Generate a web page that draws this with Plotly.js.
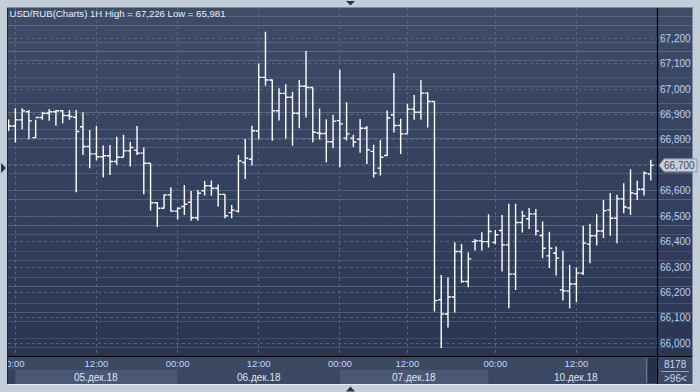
<!DOCTYPE html>
<html><head><meta charset="utf-8">
<script src="https://cdn.plot.ly/plotly-3.0.1.min.js"></script>
<style>html,body{margin:0;padding:0;background:#c3ced9;}#chart{width:700px;height:392px;}</style>
</head><body><div id="chart"></div>
<script>
// ---- data (hourly bars, USD/RUB) ----
const opens = [66860,66855,66879,66911,66809,66888,66905,66911,66915,66896,66889,66852,66774,66745,66734,66738,66715,66732,66757,66760,66748,66708,66553,66531,66584,66520,66538,66555,66494,66600,66620,66610,66586,66514,66520,66711,66724,66835,67046,67036,66915,66983,66968,66905,67011,67006,66827,66825,66793,66876,66807,66807,66803,66846,66755,66689,66739,66899,66857,66824,66921,66909,66984,66951,66171,66115,66182,66361,66243,66400,66403,66400,66397,66444,66387,66272,66475,66490,66509,66424,66344,66354,66210,66206,66233,66276,66390,66423,66442,66525,66492,66568,66532,66588,66606,66666];
const highs = [66880,66925,66925,66918,66879,66911,66922,66918,66918,66918,66918,66909,66839,66855,66778,66780,66813,66820,66793,66855,66770,66708,66555,66586,66614,66534,66623,66599,66603,66638,66640,66625,66586,66544,66741,66804,66856,67101,67226,67038,67003,67019,66990,67036,67150,67006,66924,66881,66898,67076,66948,66820,66882,66855,66781,66800,66916,67063,66883,66942,66977,67036,66988,66951,66269,66260,66397,66391,66357,66410,66437,66508,66446,66505,66549,66549,66521,66532,66528,66479,66439,66381,66364,66309,66298,66462,66470,66509,66564,66591,66584,66630,66685,66639,66676,66722];
const lows = [66835,66790,66842,66803,66807,66879,66875,66856,66866,66879,66594,66741,66689,66719,66653,66662,66702,66732,66695,66741,66586,66522,66457,66530,66518,66488,66505,66482,66482,66581,66580,66538,66492,66492,66515,66646,66699,66802,67013,66797,66876,66806,66777,66846,66888,66791,66802,66712,66767,66693,66798,66772,66750,66705,66652,66660,66737,66829,66745,66824,66879,66879,66849,66125,65981,66062,66121,66237,66220,66365,66365,66377,66390,66282,66138,66210,66436,66450,66424,66335,66296,66267,66168,66138,66162,66269,66315,66385,66414,66423,66394,66512,66505,66564,66581,66640];
const closes = [66855,66879,66915,66875,66888,66905,66911,66915,66896,66892,66833,66774,66745,66734,66738,66715,66732,66757,66770,66748,66708,66553,66531,66584,66520,66531,66547,66494,66590,66620,66610,66586,66502,66524,66717,66728,66836,67046,67036,66915,66983,66968,66905,67011,67006,66830,66825,66793,66874,66863,66824,66792,66846,66761,66669,66732,66886,66857,66824,66921,66909,66984,66951,66168,66115,66182,66361,66243,66332,66403,66400,66440,66427,66387,66272,66475,66501,66509,66442,66374,66374,66335,66206,66233,66276,66394,66423,66442,66522,66492,66568,66536,66591,66606,66669,66700];

const timeTickPos  = [1, 13, 25, 37, 49, 59, 72, 84];
const timeTickText = ['0:00','12:00','00:00','12:00','00:00','12:00','00:00','12:00'];
const dayLabels   = ['05.дек.18','06.дек.18','07.дек.18','10.дек.18'];
const dayLabelPos = [13, 37, 60, 84];
const dayBandStart = [1, 25, 49, 71];
const dayBandEnd   = [25, 49, 71, 94.3];
const priceTicks = [66000,66100,66200,66300,66400,66500,66600,66700,66800,66900,67000,67100,67200];
const seriesName = 'USD/RUB(Charts) 1H';
const totalBars = 8178;
const visibleBars = 96;

// ---- geometry helpers (styling only) ----
const W = 700, H = 392, PL = 8, PR = 657, PT = 8, PB = 356;
const xr = [-0.09, 95.92], yr = [65950, 67319];
const fx = px => (px - PL) / (PR - PL);
const fy = py => (PB - py) / (PB - PT);
const barPx = i => PL + (i - xr[0]) / (xr[1] - xr[0]) * (PR - PL);
const valPy = v => PT + (yr[1] - v) / (yr[1] - yr[0]) * (PB - PT);
const fmt = n => n.toLocaleString('en-US');
const FONT = 'Liberation Sans, Arial, sans-serif';

const xs = opens.map((_, i) => i);
const hi = Math.max(...highs), lo = Math.min(...lows);
const lastV = closes[closes.length - 1], lpY = valPy(lastV);

const shapes = [];
// gradient background of plot + right panel
const N = 40, c0 = [63,76,104], c1 = [42,54,84];
for (let k = 0; k < N; k++) {
  const t = (k + 0.5) / N;
  const c = c0.map((a, j) => Math.round(a + (c1[j] - a) * t));
  shapes.push({type:'rect', xref:'paper', yref:'paper', layer:'below',
    x0: fx(PL), x1: fx(692), y0: fy(PT + (PB-PT)*k/N), y1: fy(PT + (PB-PT)*(k+1)/N) - 0.0001,
    fillcolor:`rgb(${c[0]},${c[1]},${c[2]})`, line:{width:0}});
}
// bottom axis strip
shapes.push({type:'rect', xref:'paper', yref:'paper', layer:'below', x0:fx(PL), x1:fx(692), y0:fy(356), y1:fy(384), fillcolor:'#3c4864', line:{width:0}});
shapes.push({type:'rect', xref:'paper', yref:'paper', layer:'below', x0:fx(PL), x1:fx(646), y0:fy(370), y1:fy(384), fillcolor:'#34405c', line:{width:0}});
dayBandStart.forEach((s, k) => {
  shapes.push({type:'rect', xref:'paper', yref:'paper', layer:'below', x0:fx(barPx(s)), x1:fx(barPx(dayBandEnd[k])), y0:fy(370), y1:fy(384),
    fillcolor: k % 2 === 0 ? '#4a5876' : '#3b4865', line:{width:0}});
});
// scroll block
shapes.push({type:'rect', xref:'paper', yref:'paper', layer:'below', x0:fx(648), x1:fx(656.5), y0:fy(358), y1:fy(383), fillcolor:'#25304a', line:{width:0}});
shapes.push({type:'line', xref:'paper', yref:'paper', x0:fx(646.5), x1:fx(646.5), y0:fy(358), y1:fy(383), line:{color:'#6c7890', width:1}});
// right panel bottom separator
shapes.push({type:'line', xref:'paper', yref:'paper', x0:fx(661), x1:fx(689), y0:fy(371.5), y1:fy(371.5), line:{color:'#8ea6c8', width:1}});
// frame lines
shapes.push({type:'line', xref:'paper', yref:'paper', x0:fx(PL), x1:fx(692), y0:fy(356.5), y1:fy(356.5), line:{color:'#000000', width:1.2}});
shapes.push({type:'line', xref:'paper', yref:'paper', x0:fx(657.5), x1:fx(657.5), y0:fy(PT), y1:fy(384), line:{color:'#000000', width:1.2}});
shapes.push({type:'line', xref:'paper', yref:'paper', x0:fx(7.5), x1:fx(7.5), y0:fy(7), y1:fy(385), line:{color:'#1e2534', width:1}});
shapes.push({type:'line', xref:'paper', yref:'paper', x0:fx(7), x1:fx(693), y0:fy(7.5), y1:fy(7.5), line:{color:'#7d8aa0', width:1}});
shapes.push({type:'line', xref:'paper', yref:'paper', x0:fx(692.5), x1:fx(692.5), y0:fy(7), y1:fy(385), line:{color:'#7d8aa0', width:1}});
shapes.push({type:'line', xref:'paper', yref:'paper', x0:fx(7), x1:fx(693), y0:fy(384.5), y1:fy(384.5), line:{color:'#e8eef4', width:1}});
// edge triangles
const tri = pts => 'M' + pts.map(p => fx(p[0]) + ',' + fy(p[1])).join(' L') + ' Z';
shapes.push({type:'path', xref:'paper', yref:'paper', path: tri([[1,163],[6,168],[1,173]]), fillcolor:'#2a3242', line:{width:0}});
shapes.push({type:'path', xref:'paper', yref:'paper', path: tri([[346,1],[355,1],[350.5,5.5]]), fillcolor:'#2a3242', line:{width:0}});
shapes.push({type:'path', xref:'paper', yref:'paper', path: tri([[346,391.5],[355,391.5],[350.5,386.5]]), fillcolor:'#2a3242', line:{width:0}});
// last price marker
shapes.push({type:'path', xref:'paper', yref:'paper', layer:'above',
  path: tri([[659,lpY],[664,lpY-6.5],[697,lpY-6.5],[697,lpY+6.5],[664,lpY+6.5]]),
  fillcolor:'#c9ced8', line:{color:'#8a94a6', width:1}});

const annotations = [];
dayLabels.forEach((t, k) => annotations.push({text:t, xref:'paper', yref:'paper', x: fx(barPx(dayLabelPos[k])), y: fy(377.5),
  showarrow:false, xanchor:'center', yanchor:'middle', font:{family:FONT, size:10, color:'#dde6f0'}}));
annotations.push({text:String(totalBars), xref:'paper', yref:'paper', x:fx(675.5), y:fy(364), showarrow:false, xanchor:'center', yanchor:'middle',
  font:{family:FONT, size:10, color:'#c4d8f4'}});
annotations.push({text:'&gt;' + visibleBars + '&lt;', xref:'paper', yref:'paper', x:fx(675.5), y:fy(378), showarrow:false, xanchor:'center', yanchor:'middle',
  font:{family:FONT, size:10, color:'#c4d8f4'}});
annotations.push({text: fmt(lastV), xref:'paper', yref:'paper', x:fx(661.5), y:fy(lpY), showarrow:false, xanchor:'left', yanchor:'middle',
  font:{family:FONT, size:10, color:'#3a4a66'}});

const trace = {
  type:'ohlc', x: xs, open: opens, high: highs, low: lows, close: closes,
  increasing:{line:{color:'#ffffff', width:1.4}},
  decreasing:{line:{color:'#ffffff', width:1.4}},
  tickwidth: 0.45, hoverinfo:'skip', showlegend:false
};

const layout = {
  width: W, height: H,
  paper_bgcolor:'#c3ced9', plot_bgcolor:'rgba(0,0,0,0)',
  margin:{l:PL, r:W-PR, t:PT, b:H-PB, pad:0},
  showlegend:false, hovermode:false, dragmode:false,
  title:{text: `${seriesName} High = ${fmt(hi)} Low = ${fmt(lo)}`, xref:'container', yref:'container',
    x: 9.5/W, xanchor:'left', y: 1 - 14/H, yanchor:'middle',
    font:{family:FONT, size:9.6, color:'#e6edf5'}},
  xaxis:{type:'linear', range:xr, tickmode:'array', tickvals:timeTickPos, ticktext:timeTickText,
    showgrid:true, gridcolor:'#55647f', gridwidth:1, griddash:'dot', zeroline:false, showline:false,
    ticks:'', ticklabelstandoff:0,
    tickfont:{family:FONT, size:9.5, color:'#c0d6f4'},
    rangeslider:{visible:false}, fixedrange:true},
  yaxis:{range:yr, side:'right', tickmode:'array', tickvals:priceTicks,
    ticktext:priceTicks.map(v => Math.abs(v - lastV) < 50 ? '' : fmt(v)),
    showgrid:true, gridcolor:'#55647f', gridwidth:1, griddash:'dot', zeroline:false, showline:false,
    ticks:'', ticklabelstandoff:2,
    tickfont:{family:FONT, size:10, color:'#b8d0f0'}, fixedrange:true},
  shapes, annotations
};

Plotly.newPlot('chart', [trace], layout, {displayModeBar:false, staticPlot:true});
</script>
</body></html>
